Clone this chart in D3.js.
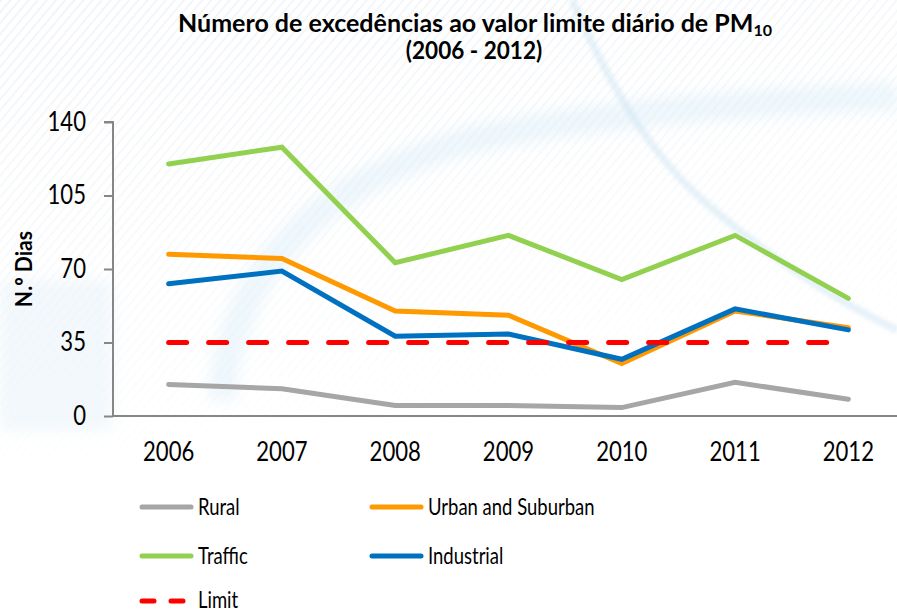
<!DOCTYPE html>
<html lang="pt">
<head>
  <meta charset="utf-8">
  <title>Excedências PM10 2006-2012</title>
  <script type="text/javascript" src="https://cdnjs.cloudflare.com/ajax/libs/d3/7.8.5/d3.min.js"></script>
  <style>
    body { margin: 0; background: #fff; }
    svg { display: block; font-family: Lato, "Open Sans", sans-serif; }
    .axis path, .axis line { stroke: #868686; stroke-width: 2; }
    .axis text { fill: #000; font-size: 26px; font-family: Lato, sans-serif; }
  </style>
</head>
<body>
  <script type="text/javascript">
    var width = 897;
    var height = 613;

    // data
    var years = ["2006", "2007", "2008", "2009", "2010", "2011", "2012"];
    var rural = [15, 13, 5, 5, 4, 16, 8];
    var urban = [77, 75, 50, 48, 25, 50, 42];
    var traffic = [120, 128, 73, 86, 65, 86, 56];
    var industrial = [63, 69, 38, 39, 27, 51, 41];
    var limit = [35, 35, 35, 35, 35, 35, 35];
    var yTicks = [0, 35, 70, 105, 140];

    var series = [
      { name: "Rural", values: rural, color: "#a6a6a6", dash: null },
      { name: "Urban and Suburban", values: urban, color: "#ff9900", dash: null },
      { name: "Traffic", values: traffic, color: "#92d050", dash: null },
      { name: "Industrial", values: industrial, color: "#0070c0", dash: null },
      { name: "Limit", values: limit, color: "#ff0000", dash: "18,22" }
    ];

    // the original font is narrow (Calibri-like); squeeze Lato horizontally
    var squash = function (sel, k) {
      sel.each(function () {
        var w = this.getComputedTextLength();
        d3.select(this).attr("textLength", w * k).attr("lengthAdjust", "spacingAndGlyphs");
      });
    };

    var svg = d3.select("body").append("svg")
      .attr("width", width)
      .attr("height", height);

    // faint decorative background (blue swooshes + stripes)
    var defs = svg.append("defs");
    defs.append("filter").attr("id", "blur")
      .append("feGaussianBlur").attr("stdDeviation", 7);
    defs.append("filter").attr("id", "blur2")
      .append("feGaussianBlur").attr("stdDeviation", 2);
    var pat = defs.append("pattern").attr("id", "stripes")
      .attr("width", 7).attr("height", 7)
      .attr("patternUnits", "userSpaceOnUse")
      .attr("patternTransform", "rotate(40)");
    pat.append("rect").attr("width", 2).attr("height", 7).attr("fill", "#eef2f6");
    var fade = defs.append("linearGradient").attr("id", "fade")
      .attr("x1", 0).attr("y1", 0).attr("x2", 0.3).attr("y2", 1);
    fade.append("stop").attr("offset", 0).attr("stop-color", "#fff").attr("stop-opacity", 1);
    fade.append("stop").attr("offset", 1).attr("stop-color", "#fff").attr("stop-opacity", 0);
    var mask = defs.append("mask").attr("id", "fadeMask");
    mask.append("rect").attr("width", width).attr("height", 480).attr("fill", "url(#fade)");

    var bg = svg.append("g");
    bg.append("rect").attr("y", 280).attr("width", 112).attr("height", 150)
      .attr("fill", "#f3f8fc").attr("filter", "url(#blur)");
    bg.append("rect").attr("width", width).attr("height", 480)
      .attr("fill", "url(#stripes)").attr("mask", "url(#fadeMask)").attr("opacity", 0.8);
    bg.append("path")
      .attr("d", "M222,400 C228,295 292,190 470,140 C600,112 760,102 897,96")
      .attr("fill", "none").attr("stroke", "#d3eaf7").attr("stroke-width", 28)
      .attr("opacity", 0.38).attr("filter", "url(#blur)");
    bg.append("path")
      .attr("d", "M572,0 C608,80 645,150 705,202 C765,255 835,300 897,330")
      .attr("fill", "none").attr("stroke", "#cfe5f3").attr("stroke-width", 7)
      .attr("opacity", 0.55).attr("filter", "url(#blur2)");

    var x = d3.scaleBand().domain(years).range([112, 905]);
    var y = d3.scaleLinear().domain([0, 140]).range([416, 122]);
    var cx = function (d, i) { return x(years[i]) + x.bandwidth() / 2; };

    // axes
    svg.append("g").attr("class", "axis")
      .attr("transform", "translate(113,0)")
      .call(d3.axisLeft(y).tickValues(yTicks).tickSize(9).tickPadding(18))
      .call(function (g) { g.select(".domain").attr("d", "M-9,122H0V416"); })
      .call(function (g) { squash(g.selectAll("text"), 0.85); });

    svg.append("g").attr("class", "axis")
      .attr("transform", "translate(0,416)")
      .call(d3.axisBottom(x).tickSize(0).tickPadding(27))
      .call(function (g) { g.select(".domain").attr("d", "M113,0H905"); })
      .call(function (g) { squash(g.selectAll("text"), 0.85); });

    // lines
    var line = d3.line().x(cx).y(function (d) { return y(d); });
    svg.append("g").selectAll("path")
      .data(series)
      .enter()
      .append("path")
      .attr("d", function (s) { return line(s.values); })
      .attr("fill", "none")
      .attr("stroke", function (s) { return s.color; })
      .attr("stroke-width", 5)
      .attr("stroke-linecap", "round")
      .attr("stroke-linejoin", "miter")
      .attr("stroke-dasharray", function (s) { return s.dash; });

    // title
    var title = svg.append("text")
      .attr("x", 178).attr("y", 32)
      .attr("textLength", 594).attr("lengthAdjust", "spacingAndGlyphs")
      .style("font-weight", "bold").style("font-size", "25px");
    title.append("tspan").text("Número de excedências ao valor limite diário de PM");
    title.append("tspan").attr("dy", 4).style("font-size", "16px").text("10");
    svg.append("text")
      .attr("x", 474).attr("y", 59)
      .attr("text-anchor", "middle")
      .style("font-weight", "bold").style("font-size", "24px")
      .text("(2006 - 2012)")
      .call(squash, 0.94);

    // y label
    svg.append("text")
      .attr("transform", "translate(32,269) rotate(-90)")
      .attr("text-anchor", "middle")
      .style("font-weight", "bold").style("font-size", "23px")
      .text("N.º Dias")
      .call(squash, 0.92);

    // legend
    var legendPos = [[140, 507], [370, 507], [140, 556], [370, 556], [140, 601]];
    var lg = svg.append("g").selectAll("g")
      .data(series)
      .enter()
      .append("g")
      .attr("transform", function (s, i) { return "translate(" + legendPos[i][0] + "," + legendPos[i][1] + ")"; });
    lg.append("line")
      .attr("x1", 2).attr("x2", 51)
      .attr("stroke", function (s) { return s.color; })
      .attr("stroke-width", 5)
      .attr("stroke-linecap", "round")
      .attr("stroke-dasharray", function (s) { return s.dash ? "12,17" : null; });
    lg.append("text")
      .attr("x", 58).attr("y", function (s, i) { return i === 4 ? 7 : 8; })
      .style("font-size", "24px")
      .text(function (s) { return s.name; })
      .call(squash, 0.77);
  </script>
</body>
</html>
